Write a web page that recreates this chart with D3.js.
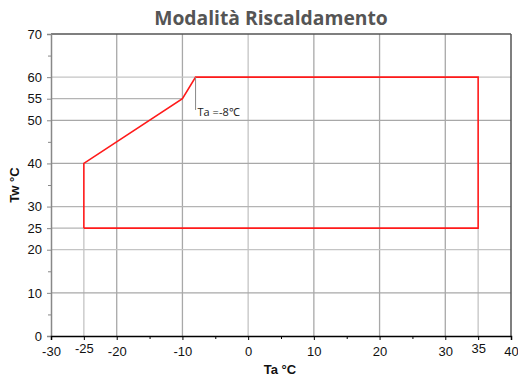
<!DOCTYPE html>
<html><head><meta charset="utf-8">
<script src="https://cdn.jsdelivr.net/npm/d3@7"></script>
<style>body{margin:0;background:#fff}svg{display:block}</style>
</head><body><svg id="c" width="518" height="378"></svg>
<script>
const title = "Modalità Riscaldamento";
const xLabel = "Ta °C", yLabel = "Tw °C";
const xTicks = [-30, -25, -20, -10, 0, 10, 20, 30, 35, 40];
const yTicks = [0, 10, 20, 25, 30, 40, 50, 55, 60, 70];
const xMinor = [-15, -5, 5, 15, 25];
const yMinor = [5, 15, 35, 45, 65];
const envTa = [-25, -25, -10, -8, 35, 35, -25];
const envTw = [25, 40, 55, 60, 60, 25, 25];
const annoTa = -8, annoTop = 60, annoBottom = 52.4, annoText = "Ta =-8℃";

const svg = d3.select("#c");
const x = d3.scaleLinear().domain([-30, 40]).range([51, 511]);
const y = d3.scaleLinear().domain([0, 70]).range([336, 34]);

// grid lines
const g = svg.append("g");
const vGrid = [[-20,0,70,"#a8a8a8"],[-10,0,70,"#a8a8a8"],[0,0,70,"#c4c4c4"],[10,0,70,"#a8a8a8"],[20,0,70,"#a8a8a8"],[30,0,70,"#a8a8a8"],[-25,0,25,"#c4c4c4"],[35,0,25,"#c4c4c4"]];
vGrid.forEach(([v,a,b,c]) => g.append("line").attr("x1",x(v)).attr("x2",x(v)).attr("y1",y(a)).attr("y2",y(b)).attr("stroke",c).attr("stroke-width",1.3));
const hGrid = [[10,-30,40,"#a8a8a8"],[20,-30,40,"#c4c4c4"],[30,-30,40,"#b4b4b4"],[40,-30,40,"#a8a8a8"],[50,-30,40,"#a8a8a8"],[60,-30,40,"#c4c4c4"],[55,-30,-10,"#b4b4b4"],[25,-30,-25,"#b4b4b4"]];
hGrid.forEach(([v,a,b,c]) => g.append("line").attr("y1",y(v)).attr("y2",y(v)).attr("x1",x(a)).attr("x2",x(b)).attr("stroke",c).attr("stroke-width",1.3));

// frame
svg.append("line").attr("x1",x(-30)).attr("x2",x(40)).attr("y1",y(70)).attr("y2",y(70)).attr("stroke","#555").attr("stroke-width",1.5);
svg.append("line").attr("x1",x(40)).attr("x2",x(40)).attr("y1",y(70)).attr("y2",y(0)).attr("stroke","#555").attr("stroke-width",1.5);

// axes
const font = "Liberation Sans, Arial, sans-serif";
const fmt = d => String(d);
const yAxis = svg.append("g").attr("transform",`translate(${x(-30)},0)`)
  .call(d3.axisLeft(y).tickValues(yTicks).tickSize(4).tickPadding(5).tickFormat(fmt));
yAxis.select(".domain").attr("stroke","#888").attr("stroke-width",1.5);
yAxis.selectAll(".tick line").attr("stroke","#888");
yAxis.selectAll("text").attr("font-family",font).attr("font-size",13).attr("fill","#111");
svg.append("g").attr("transform",`translate(${x(-30)},0)`)
  .call(d3.axisLeft(y).tickValues(yMinor).tickSize(3).tickFormat(""))
  .call(s=>{s.select(".domain").remove();s.selectAll("line").attr("stroke","#888");});

const xAxis = svg.append("g").attr("transform",`translate(0,${y(0)})`)
  .call(d3.axisBottom(x).tickValues(xTicks).tickSize(4).tickPadding(5).tickFormat(fmt));
xAxis.select(".domain").attr("stroke","#000").attr("stroke-width",1.5);
xAxis.selectAll(".tick line").attr("stroke","#000");
xAxis.selectAll("text").attr("font-family",font).attr("font-size",13).attr("fill","#111")
  .attr("y", d => (d === -25 || d === 35) ? 8 : 11);
svg.append("g").attr("transform",`translate(0,${y(0)})`)
  .call(d3.axisBottom(x).tickValues(xMinor).tickSize(3).tickFormat(""))
  .call(s=>{s.select(".domain").remove();s.selectAll("line").attr("stroke","#000");});

// envelope
svg.append("path").datum(envTa.map((t,i)=>[t,envTw[i]]))
  .attr("d", d3.line().x(d=>x(d[0])).y(d=>y(d[1])))
  .attr("fill","none").attr("stroke","#ff1a1a").attr("stroke-width",1.6);

// annotation
svg.append("line").attr("x1",x(annoTa)).attr("x2",x(annoTa)).attr("y1",y(annoTop)).attr("y2",y(annoBottom)).attr("stroke","#888").attr("stroke-width",1);
svg.append("text").attr("x",x(annoTa)+2).attr("y",y(annoBottom)+6).attr("font-family","Open Sans, sans-serif").attr("font-size",11).attr("fill","#222").text(annoText);

// titles
svg.append("text").attr("x",271).attr("y",25).attr("text-anchor","middle").attr("font-family","Open Sans, sans-serif").attr("font-weight","bold").attr("font-size",19.3).attr("fill","#555").text(title);
svg.append("text").attr("x",280).attr("y",374).attr("text-anchor","middle").attr("font-family",font).attr("font-weight","bold").attr("font-size",13).attr("fill","#111").text(xLabel);
svg.append("text").attr("transform","translate(19,185) rotate(-90)").attr("text-anchor","middle").attr("font-family",font).attr("font-weight","bold").attr("font-size",13).attr("fill","#111").text(yLabel);
</script></body></html>
